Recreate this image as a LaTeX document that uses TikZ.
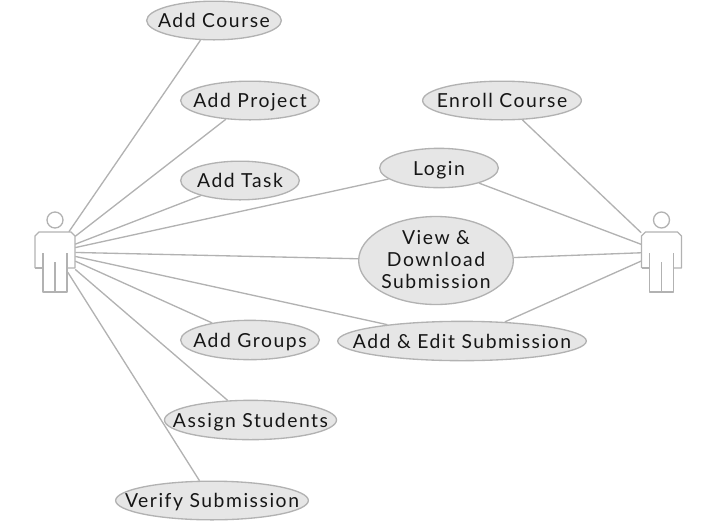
\documentclass[tikz,border=0pt]{standalone}
\usepackage{fontspec}
\setmainfont{Lato}[LetterSpace=8]
\usetikzlibrary{shapes.geometric}
\definecolor{usline}{HTML}{B2B2B2}
\definecolor{usfill}{HTML}{E6E6E6}
\definecolor{usink}{HTML}{161616}
\tikzset{
  x=0.75pt,y=-0.75pt,
  casetext/.style={inner sep=0pt,text=usink,align=center,yshift=-2pt,font=\fontsize{14.5}{16.5}\selectfont,
    execute at begin node=\strut,execute at end node=\strut},
  usecase/.style={ellipse,draw=usline,fill=usfill,line width=1pt,inner sep=0pt,
    label={[casetext]center:#1}},
  link/.style={draw=usline,line width=1pt},
  anchorbox/.style={rectangle,inner sep=0pt,minimum width=30pt,minimum height=30pt},
  stick/.style={draw=usline,line width=1pt,line join=round,fill=none},
  pics/actor/.style={code={
    \draw[stick] (0,-32) circle [radius=6pt];
    \draw[stick] (-20,16) -- (-20,-16) -- (-16,-20) -- (16,-20) -- (20,-16) -- (20,16) -- (12,16);
    \draw[stick] (-20,16) -- (-12,16);
    \draw[stick] (-12,1) -- (-12,40) -- (12,40) -- (12,1);
    \draw[stick] (0,10) -- (0,40);
  }}
}
\begin{document}
\begin{tikzpicture}
\useasboundingbox (0,0) rectangle (714,522);
\pic at (55,252) {actor};
\pic at (661.5,252) {actor};
\node[anchorbox] (dev) at (55,252) {};
\node[anchorbox] (stu) at (661.5,252) {};
\node[usecase={Add Course},minimum width=101pt,minimum height=29pt] (course) at (214,20.5) {};
\node[usecase={Add Project},minimum width=104pt,minimum height=29pt] (project) at (250,100.5) {};
\node[usecase={Add Task},minimum width=89pt,minimum height=29pt] (task) at (240,180.5) {};
\node[usecase={Enroll Course},minimum width=119pt,minimum height=29pt] (enroll) at (502,100.5) {};
\node[usecase={View \&\\Download\\Submission},minimum width=116pt,minimum height=66pt] (view) at (436,260.5) {};
\node[usecase={Login},minimum width=89pt,minimum height=29.5pt] (login) at (439,168) {};
\node[usecase={Add \& Edit Submission},minimum width=186.5pt,minimum height=29.5pt] (edit) at (462,341) {};
\node[usecase={Add Groups},minimum width=104pt,minimum height=29.5pt] (groups) at (250,340) {};
\node[usecase={Assign Students},minimum width=129pt,minimum height=29.5pt] (assign) at (250.5,420) {};
\node[usecase={Verify Submission},minimum width=144.5pt,minimum height=29pt] (verify) at (212,500.5) {};
\foreach \t in {course,project,task,login,view,edit,groups,assign,verify}
  \draw[link] (dev) -- (\t);
\foreach \t in {enroll,login,view,edit}
  \draw[link] (stu) -- (\t);
\end{tikzpicture}
\end{document}
